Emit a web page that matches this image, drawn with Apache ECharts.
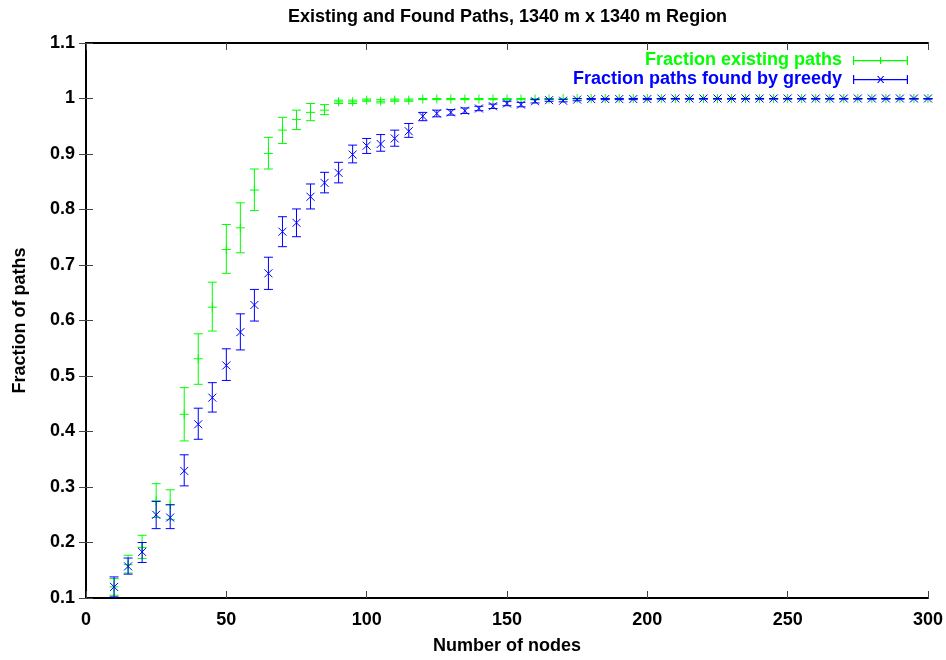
<!DOCTYPE html>
<html>
<head>
<meta charset="utf-8">
<script src="https://cdn.jsdelivr.net/npm/echarts@6/dist/echarts.min.js"></script>
<style>html,body{margin:0;padding:0;background:#fff}#c{width:946px;height:660px}</style>
</head>
<body>
<div id="c"></div>
<script>
const nodes = [10,15,20,25,30,35,40,45,50,55,60,65,70,75,80,85,90,95,100,105,110,115,120,125,130,135,140,145,150,155,160,165,170,175,180,185,190,195,200,205,210,215,220,225,230,235,240,245,250,255,260,265,270,275,280,285,290,295,300];

const existMean = [0.120,0.160,0.191,0.275,0.268,0.431,0.531,0.624,0.728,0.767,0.835,0.901,0.943,0.962,0.975,0.979,0.994,0.994,0.997,0.995,0.997,0.997,0.999,0.999,0.999,0.999,0.999,0.999,0.999,0.999,0.999,0.999,1.000,1.000,1.000,1.000,1.000,1.000,1.000,1.000,1.000,1.000,1.000,1.000,1.000,1.000,1.000,1.000,1.000,1.000,1.000,1.000,1.000,1.000,1.000,1.000,1.000,1.000,1.000];
const existLow  = [0.105,0.145,0.171,0.245,0.241,0.383,0.485,0.581,0.685,0.722,0.798,0.873,0.919,0.944,0.960,0.971,0.991,0.991,0.995,0.992,0.995,0.995,0.998,0.998,0.998,0.998,0.998,0.998,0.998,0.998,0.998,0.998,0.999,0.999,0.999,0.999,0.999,0.999,0.999,0.999,0.999,0.999,0.999,0.999,0.999,0.999,0.999,0.999,0.999,0.999,0.999,0.999,0.999,0.999,0.999,0.999,0.999,0.999,0.999];
const existHigh = [0.135,0.177,0.213,0.306,0.295,0.479,0.576,0.669,0.773,0.812,0.873,0.930,0.966,0.979,0.991,0.989,0.997,0.997,0.999,0.998,0.999,0.999,1.000,1.000,1.000,1.000,1.000,1.000,1.000,1.000,1.000,1.000,1.000,1.000,1.000,1.000,1.000,1.000,1.000,1.000,1.000,1.000,1.000,1.000,1.000,1.000,1.000,1.000,1.000,1.000,1.000,1.000,1.000,1.000,1.000,1.000,1.000,1.000,1.000];

const greedyMean = [0.120,0.157,0.183,0.250,0.245,0.329,0.413,0.461,0.519,0.579,0.628,0.685,0.760,0.776,0.823,0.848,0.866,0.899,0.915,0.918,0.928,0.941,0.968,0.973,0.975,0.978,0.982,0.986,0.991,0.989,0.995,0.997,0.996,0.998,0.999,0.999,0.999,0.999,0.999,1.000,1.000,1.000,1.000,1.000,1.000,1.000,1.000,1.000,1.000,1.000,1.000,1.000,1.000,1.000,1.000,1.000,1.000,1.000,1.000];
const greedyLow  = [0.102,0.143,0.164,0.225,0.225,0.302,0.386,0.435,0.492,0.547,0.599,0.656,0.733,0.751,0.801,0.830,0.848,0.884,0.901,0.905,0.914,0.930,0.960,0.967,0.970,0.973,0.978,0.982,0.987,0.985,0.992,0.995,0.994,0.996,0.998,0.998,0.998,0.998,0.998,0.999,0.999,0.999,0.999,0.999,0.999,0.999,0.999,0.999,0.999,0.999,0.999,0.999,0.999,0.999,0.999,0.999,0.999,0.999,0.999];
const greedyHigh = [0.138,0.172,0.200,0.274,0.268,0.358,0.442,0.488,0.549,0.612,0.656,0.714,0.787,0.801,0.846,0.867,0.885,0.916,0.928,0.935,0.943,0.955,0.975,0.979,0.980,0.983,0.986,0.990,0.995,0.993,0.998,0.999,0.998,1.000,1.000,1.000,1.000,1.000,1.000,1.000,1.000,1.000,1.000,1.000,1.000,1.000,1.000,1.000,1.000,1.000,1.000,1.000,1.000,1.000,1.000,1.000,1.000,1.000,1.000];

const xTicks = [0,50,100,150,200,250,300];
const yTicks = [0.1,0.2,0.3,0.4,0.5,0.6,0.7,0.8,0.9,1,1.1];

const GREEN = '#00ff00';
const BLUE = '#0000ff';
const FONT = 'Liberation Sans';

function build(mean, low, high) {
  return nodes.map((n, i) => [n, mean[i], low[i], high[i]]);
}

function makeRender(color, marker) {
  return function (params, api) {
    const x = api.value(0);
    const pm = api.coord([x, api.value(1)]);
    const pl = api.coord([x, api.value(2)]);
    const ph = api.coord([x, api.value(3)]);
    const cw = 4.5;
    const st = {stroke: color, lineWidth: 1, fill: null};
    const ch = [
      {type: 'line', shape: {x1: pm[0], y1: pl[1], x2: pm[0], y2: ph[1]}, style: st},
      {type: 'line', shape: {x1: pm[0]-cw, y1: pl[1], x2: pm[0]+cw, y2: pl[1]}, style: st},
      {type: 'line', shape: {x1: pm[0]-cw, y1: ph[1], x2: pm[0]+cw, y2: ph[1]}, style: st}
    ];
    if (marker === 'plus') {
      ch.push({type: 'line', shape: {x1: pm[0]-4.5, y1: pm[1], x2: pm[0]+4.5, y2: pm[1]}, style: st});
      ch.push({type: 'line', shape: {x1: pm[0], y1: pm[1]-4.5, x2: pm[0], y2: pm[1]+4.5}, style: st});
    } else {
      ch.push({type: 'line', shape: {x1: pm[0]-4, y1: pm[1]-4, x2: pm[0]+4, y2: pm[1]+4}, style: st});
      ch.push({type: 'line', shape: {x1: pm[0]-4, y1: pm[1]+4, x2: pm[0]+4, y2: pm[1]-4}, style: st});
    }
    return {type: 'group', children: ch};
  };
}

const chart = echarts.init(document.getElementById('c'), null, {renderer: 'canvas'});

const axisLine = {show: true, lineStyle: {color: '#000', width: 2}};
const tick = {show: true, inside: true, length: 7, lineStyle: {color: '#444', width: 1}};
const labelStyle = {color: '#000', fontFamily: FONT, fontWeight: 'bold', fontSize: 18};

const iconGreen = 'path://M0,4h55v1.2h-55z M0,0h1.2v9h-1.2z M53.8,0h1.2v9h-1.2z M27,1h1.2v7h-1.2z';
const iconBlue = 'path://M0,4h55v1.2h-55z M0,0h1.2v9h-1.2z M53.8,0h1.2v9h-1.2z M24,1L25.3,1L31.3,8L30,8z M30,1L31.3,1L25.3,8L24,8z';

chart.setOption({
  animation: false,
  backgroundColor: '#fff',
  title: {
    text: 'Existing and Found Paths, 1340 m x 1340 m Region',
    left: 283, top: 3,
    textStyle: {color: '#000', fontFamily: FONT, fontWeight: 'bold', fontSize: 18}
  },
  legend: {
    orient: 'vertical', align: 'right', right: 33, top: 46,
    itemWidth: 55, itemHeight: 9, itemGap: 0,
    symbolKeepAspect: false,
    textStyle: {fontFamily: FONT, fontWeight: 'bold', fontSize: 18, lineHeight: 19, padding: [0, 6, 0, 0]},
    data: [
      {name: 'Fraction existing paths', icon: iconGreen, textStyle: {color: GREEN}, itemStyle: {color: GREEN}},
      {name: 'Fraction paths found by greedy', icon: iconBlue, textStyle: {color: BLUE}, itemStyle: {color: BLUE}}
    ]
  },
  grid: {left: 86, right: 15, top: 43, bottom: 58, containLabel: false},
  xAxis: [
    {type: 'value', min: 0, max: 300, interval: 50, position: 'bottom',
     name: 'Number of nodes', nameLocation: 'middle', nameGap: 39,
     nameTextStyle: {color: '#000', fontFamily: FONT, fontWeight: 'bold', fontSize: 18},
     axisLine: axisLine, axisTick: tick, splitLine: {show: false},
     axisLabel: Object.assign({margin: 13}, labelStyle)},
    {type: 'value', min: 0, max: 300, interval: 50, position: 'top',
     axisLine: axisLine, axisTick: tick, splitLine: {show: false}, axisLabel: {show: false}}
  ],
  yAxis: [
    {type: 'value', min: 0.1, max: 1.1, interval: 0.1, position: 'left',
     name: 'Fraction of paths', nameLocation: 'middle', nameGap: 57, nameRotate: 90,
     nameTextStyle: {color: '#000', fontFamily: FONT, fontWeight: 'bold', fontSize: 18},
     axisLine: axisLine, axisTick: tick, splitLine: {show: false},
     axisLabel: Object.assign({margin: 11, formatter: v => String(Math.round(v * 10) / 10)}, labelStyle)},
    {type: 'value', min: 0.1, max: 1.1, interval: 0.1, position: 'right',
     axisLine: axisLine, axisTick: tick, splitLine: {show: false}, axisLabel: {show: false}}
  ],
  series: [
    {name: 'Fraction existing paths', type: 'custom', xAxisIndex: 0, yAxisIndex: 0,
     renderItem: makeRender(GREEN, 'plus'), itemStyle: {color: GREEN},
     encode: {x: 0, y: [1, 2, 3]}, data: build(existMean, existLow, existHigh), clip: false, z: 2},
    {name: 'Fraction paths found by greedy', type: 'custom', xAxisIndex: 0, yAxisIndex: 0,
     renderItem: makeRender(BLUE, 'cross'), itemStyle: {color: BLUE},
     encode: {x: 0, y: [1, 2, 3]}, data: build(greedyMean, greedyLow, greedyHigh), clip: false, z: 3}
  ]
});
</script>
</body>
</html>
